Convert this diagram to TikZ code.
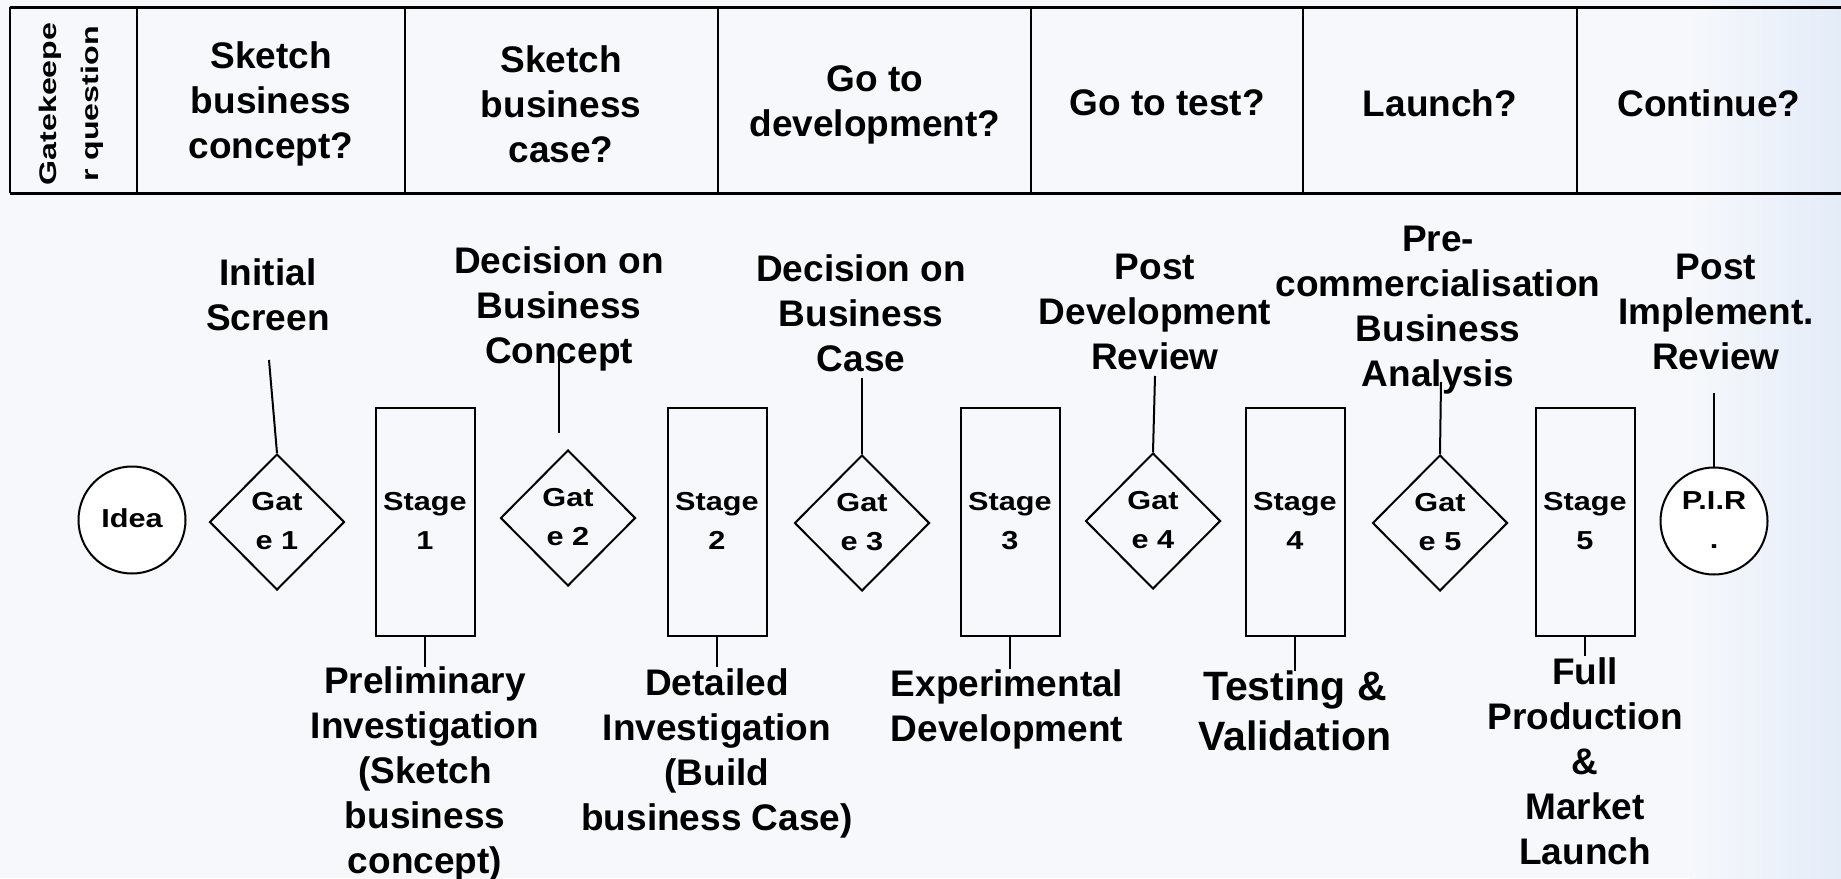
\documentclass[tikz,border=0pt]{standalone}
\usepackage{fontspec}
\setmainfont{Liberation Sans}
\usetikzlibrary{shapes.geometric}
\definecolor{bgc}{RGB}{246,248,251}
\definecolor{bgblue}{RGB}{228,236,249}
\newcommand\gatefont{\bfseries\fontsize{26}{39}\selectfont}
\newcommand\lblfont{\bfseries\fontsize{37}{45}\selectfont}
\newcommand\bigfont{\bfseries\fontsize{41}{50}\selectfont}
\newcommand\wide[1]{\scalebox{1.18}[1]{\begin{tabular}{@{}c@{}}#1\end{tabular}}}
\tikzset{
  gate/.style={diamond, draw, line width=2pt, minimum width=135pt, minimum height=136pt, inner sep=0pt, align=center, font=\gatefont},
  stagebox/.style={rectangle, draw, line width=2pt, minimum width=99pt, minimum height=228pt, inner sep=0pt, align=center, font=\gatefont},
  endcircle/.style={circle, draw, line width=2pt, minimum size=107pt, inner sep=0pt, align=center, font=\gatefont, fill=white},
  lbl/.style={align=center, font=\lblfont, inner sep=0pt},
  tbltext/.style={align=center, font=\lblfont, inner sep=0pt},
  link/.style={line width=2pt},
  tblline/.style={line width=3pt},
  tbldiv/.style={line width=2pt},
}
\begin{document}
\begin{tikzpicture}[x=1pt,y=-1pt]
\useasboundingbox (0,0) rectangle (1841,878);
\fill[bgc] (0,0) rectangle (1841,878);
\shade[left color=bgc, right color=bgblue] (1690,0) rectangle (1841,878);

% table
\draw[tblline] (10,7) -- (1841,7);
\draw[tblline] (10,193) -- (1841,193);
\draw[tbldiv] (10,7) -- (10,193);
\foreach \xx in {137,405,718,1031,1303,1577} \draw[tbldiv] (\xx,7) -- (\xx,193);

\node[inner sep=0pt, rotate=90] (gk) at (69,104) {\scalebox{1.34}[1]{\bfseries\fontsize{24}{42}\selectfont\begin{tabular}{@{}c@{}}Gatekeepe\\r question\end{tabular}}};
\node[tbltext] (q1) at (271,104) {Sketch\\business\\concept?};
\node[tbltext] (q2) at (561,104) {Sketch\\business\\case?};
\node[tbltext] (q3) at (875,105) {Go to\\development?};
\node[tbltext] (q4) at (1167,103) {Go to test?};
\node[tbltext] (q5) at (1440,103) {Launch?};
\node[tbltext] (q6) at (1709,103) {Continue?};

% main row
\node[endcircle] (idea) at (132,520) {\wide{Idea}};
\node[gate] (g1) at (277,522) {\wide{Gat\\e 1}};
\node[stagebox] (s1) at (425,522) {\wide{Stage\\1}};
\node[gate] (g2) at (568,518) {\wide{Gat\\e 2}};
\node[stagebox] (s2) at (717,522) {\wide{Stage\\2}};
\node[gate] (g3) at (862,523) {\wide{Gat\\e 3}};
\node[stagebox] (s3) at (1010,522) {\wide{Stage\\3}};
\node[gate] (g4) at (1153,521) {\wide{Gat\\e 4}};
\node[stagebox] (s4) at (1295,522) {\wide{Stage\\4}};
\node[gate] (g5) at (1440,523) {\wide{Gat\\e 5}};
\node[stagebox] (s5) at (1585,522) {\wide{Stage\\5}};
\node[endcircle] (pir) at (1714,521) {\wide{P.I.R\\.}};

% labels above
\node[lbl] (l1) at (268,295) {Initial\\Screen};
\node[lbl] (l2) at (559,309) {Decision on\\Business\\Concept};
\node[lbl] (l3) at (861,313) {Decision on\\Business\\Case};
\node[lbl] (l4) at (1155,312) {Post\\Development\\Review};
\node[lbl] (l5) at (1438,310) {Pre-\\commercialisation\\Business\\Analysis};
\node[lbl] (l6) at (1716,312) {Post\\Implement.\\Review};

% labels below
\node[lbl] (b1) at (425,774) {Preliminary\\Investigation\\(Sketch\\business\\concept)};
\node[lbl] (b2) at (717,753) {Detailed\\Investigation\\(Build\\business Case)};
\node[lbl] (b3) at (1007,709) {Experimental\\Development};
\node[lbl, font=\bigfont] (b4) at (1295,711) {Testing \&\\Validation};
\node[lbl] (b5) at (1585,761) {Full\\Production\\\&\\Market\\Launch};

% connectors
\coordinate (t1) at (269,360);
\coordinate (t2) at (559,358);
\coordinate (t2b) at (559,433);
\coordinate (t3) at (862,378);
\coordinate (t4) at (1155,376);
\coordinate (t5) at (1441,382);
\coordinate (t6) at (1714,393);
\draw[link] (t1) -- (g1.north);
\draw[link] (t2) -- (t2b);
\draw[link] (t3) -- (g3.north);
\draw[link] (t4) -- (g4.north);
\draw[link] (t5) -- (g5.north);
\draw[link] (t6) -- (pir.north);

\coordinate (e1) at (s1.south |- 0,667);
\coordinate (e2) at (s2.south |- 0,667);
\coordinate (e3) at (s3.south |- 0,669);
\coordinate (e4) at (s4.south |- 0,671);
\coordinate (e5) at (s5.south |- 0,656);
\draw[link] (s1.south) -- (e1);
\draw[link] (s2.south) -- (e2);
\draw[link] (s3.south) -- (e3);
\draw[link] (s4.south) -- (e4);
\draw[link] (s5.south) -- (e5);
\end{tikzpicture}
\end{document}
